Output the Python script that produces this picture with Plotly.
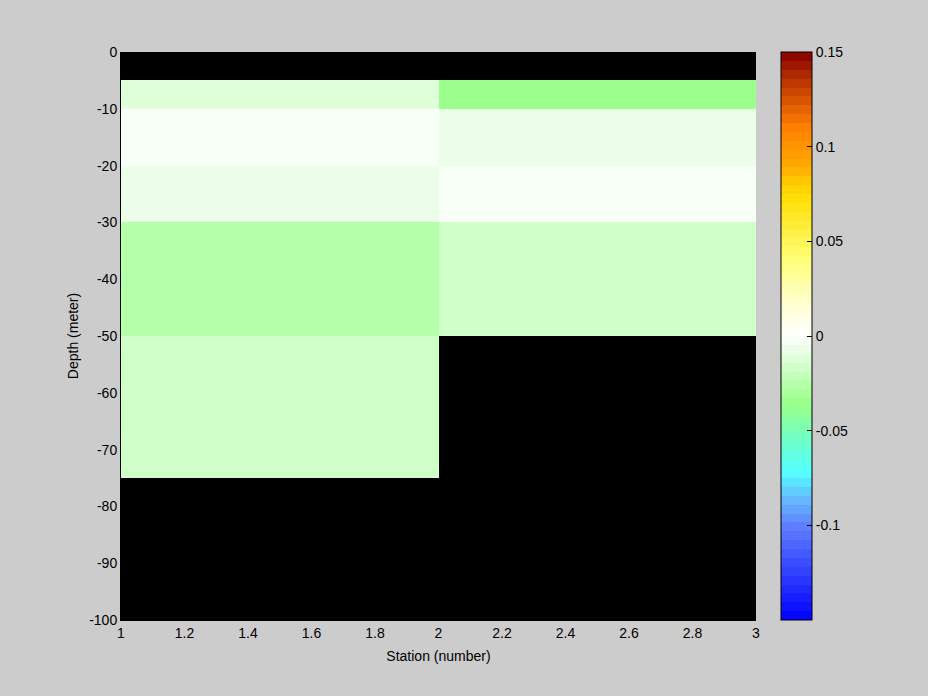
import numpy as np
import plotly.graph_objects as go

# ---- data ----
station_edges = [1, 2, 3]
depth_edges = [0, -5, -10, -20, -30, -50, -75, -100]
# rows = depth layers (top to bottom), cols = station intervals
station1_values = [None, -0.012, -0.003, -0.008, -0.026, -0.015, None]
station2_values = [None, -0.033, -0.008, -0.003, -0.015, None, None]
x_tick_vals = [1, 1.2, 1.4, 1.6, 1.8, 2, 2.2, 2.4, 2.6, 2.8, 3]
x_tick_text = ["1", "1.2", "1.4", "1.6", "1.8", "2", "2.2", "2.4", "2.6", "2.8", "3"]
y_tick_vals = [0, -10, -20, -30, -40, -50, -60, -70, -80, -90, -100]
y_tick_text = ["0", "-10", "-20", "-30", "-40", "-50", "-60", "-70", "-80", "-90", "-100"]
cb_tick_vals = [-0.1, -0.05, 0, 0.05, 0.1, 0.15]
cb_tick_text = ["-0.1", "-0.05", "0", "0.05", "0.1", "0.15"]
cmin, cmax = -0.15, 0.15

z = [[a if a is not None else np.nan, b if b is not None else np.nan]
     for a, b in zip(station1_values, station2_values)]

# ---- colormap (64 discrete levels) ----
anchors = [
    (-0.15, (0, 0, 255)),
    (-0.10, (96, 128, 255)),
    (-0.085, (100, 190, 255)),
    (-0.072, (85, 255, 255)),
    (-0.055, (110, 255, 200)),
    (-0.036, (153, 255, 136)),
    (0.0, (255, 255, 255)),
    (0.02, (255, 255, 200)),
    (0.04, (255, 255, 120)),
    (0.06, (255, 235, 50)),
    (0.075, (255, 220, 0)),
    (0.09, (255, 170, 0)),
    (0.11, (255, 128, 0)),
    (0.13, (200, 68, 0)),
    (0.15, (136, 0, 0)),
]
av = [a[0] for a in anchors]
n = 64
scale = []
for i in range(n):
    v = cmin + (i + 0.5) * (cmax - cmin) / n
    rgb = [int(round(np.interp(v, av, [a[1][k] for a in anchors]))) for k in range(3)]
    col = "rgb(%d,%d,%d)" % tuple(rgb)
    scale.append([i / n, col])
    scale.append([(i + 1) / n, col])

FONT = "Liberation Sans, Arial, Helvetica"
FS = 14

fig = go.Figure(go.Heatmap(
    x=station_edges, y=depth_edges, z=z,
    zmin=cmin, zmax=cmax, colorscale=scale, hoverongaps=False,
    colorbar=dict(
        x=(781 - 121) / 635, xanchor="left", xpad=0, ypad=0,
        y=0, yanchor="bottom", len=1, lenmode="fraction",
        thickness=31, thicknessmode="pixels",
        outlinewidth=1, outlinecolor="black",
        tickvals=cb_tick_vals, ticktext=cb_tick_text,
        ticks="inside", ticklen=5, tickcolor="black",
        tickfont=dict(family=FONT, size=FS, color="black"),
    ),
))

fig.update_layout(
    width=928, height=696,
    paper_bgcolor="#cccccc", plot_bgcolor="black",
    margin=dict(l=121, r=172, t=52, b=76),
    font=dict(family=FONT, size=FS, color="black"),
    xaxis=dict(range=[1, 3], tickvals=x_tick_vals, ticktext=x_tick_text,
               showgrid=False, zeroline=False, showline=True, linecolor="black",
               linewidth=1, ticks="", ticklen=0,
               title=dict(text="Station (number)", standoff=11,
                          font=dict(size=FS))),
    yaxis=dict(range=[-100, 0], tickvals=y_tick_vals, ticktext=y_tick_text,
               showgrid=False, zeroline=False, showline=True, linecolor="black",
               linewidth=1, ticks="",
               title=dict(text="Depth (meter)", standoff=7,
                          font=dict(size=FS))),
)

fig.write_html(
    "out.html",
    config={"displayModeBar": False},
    post_script="document.body.style.margin='0';document.body.style.background='#cccccc';",
)
